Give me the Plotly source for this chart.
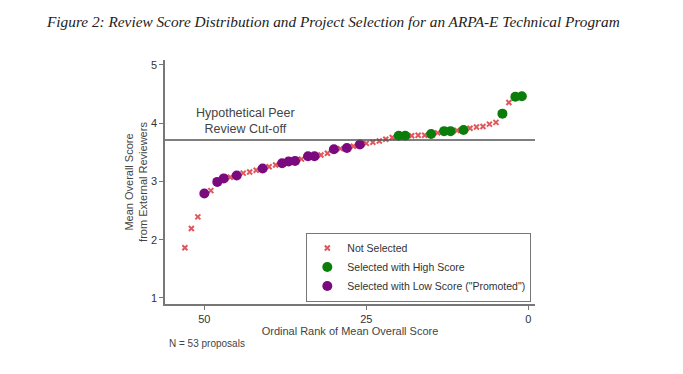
import plotly.graph_objects as go

# Data: ordinal rank (1 = best) and mean overall score
ranks = list(range(1, 54))
scores = [4.46, 4.45, 4.35, 4.16, 4.01, 3.98, 3.94, 3.93, 3.91, 3.88,
          3.87, 3.86, 3.86, 3.83, 3.81, 3.79, 3.79, 3.78, 3.78, 3.78,
          3.75, 3.72, 3.69, 3.67, 3.65, 3.63, 3.60, 3.57, 3.56, 3.55,
          3.48, 3.45, 3.43, 3.43, 3.38, 3.35, 3.34, 3.31, 3.28, 3.25,
          3.22, 3.19, 3.16, 3.14, 3.10, 3.07, 3.05, 2.99, 2.84, 2.79,
          2.39, 2.19, 1.86]
high_ranks = [1, 2, 4, 10, 12, 13, 15, 19, 20]
promoted_ranks = [26, 28, 30, 33, 34, 36, 37, 38, 41, 45, 47, 48, 50]
cutoff = 3.71
x_ticks = [50, 25, 0]
y_ticks = [1, 2, 3, 4, 5]

score_of = dict(zip(ranks, scores))
not_sel = [r for r in ranks if r not in high_ranks and r not in promoted_ranks]

fig = go.Figure()
fig.add_trace(go.Scatter(
    x=not_sel, y=[score_of[r] for r in not_sel], mode="markers",
    name="Not Selected",
    marker=dict(symbol="x-thin", size=5, color="#e0575c",
                line=dict(width=2, color="#e0575c"))))
fig.add_trace(go.Scatter(
    x=high_ranks, y=[score_of[r] for r in high_ranks], mode="markers",
    name="Selected with High Score",
    marker=dict(symbol="circle", size=10, color="#0a7d0a")))
fig.add_trace(go.Scatter(
    x=promoted_ranks, y=[score_of[r] for r in promoted_ranks], mode="markers",
    name='Selected with Low Score ("Promoted")',
    marker=dict(symbol="circle", size=10, color="#7a0a7d")))

fig.add_shape(type="line", xref="paper", x0=0, x1=1, yref="y",
              y0=cutoff, y1=cutoff, line=dict(color="#555555", width=1.5))

fig.add_annotation(x=43.6, y=4.03, xref="x", yref="y",
                   text="Hypothetical Peer<br>Review Cut-off", showarrow=False,
                   font=dict(family="Liberation Sans", size=12.5, color="#444444"),
                   align="center")
fig.add_annotation(x=0.005, y=-0.16, xref="paper", yref="paper",
                   xanchor="left", yanchor="middle",
                   text="N = 53 proposals", showarrow=False,
                   font=dict(family="Liberation Sans", size=10, color="#444444"))

fig.update_layout(
    width=683, height=374,
    margin=dict(l=157, r=156, t=52, b=78),
    paper_bgcolor="white", plot_bgcolor="white",
    title=dict(text="Figure 2: Review Score Distribution and Project Selection for an ARPA-E Technical Program",
               x=39/683, xanchor="left", y=1-14/374, yanchor="middle",
               font=dict(family="Liberation Serif", size=15.3, color="#222222", style="italic")),
    font=dict(family="Liberation Sans", color="#444444"),
    showlegend=True,
    legend=dict(x=0.99, xanchor="right", y=0.01, yanchor="bottom",
                bordercolor="#777777", borderwidth=1, bgcolor="white",
                font=dict(size=10.5, color="#333333"),
                itemsizing="trace", tracegroupgap=0),
    xaxis=dict(range=[56.07, -1.03], tickvals=x_ticks, showgrid=False, zeroline=False,
               showline=True, linecolor="#777777", linewidth=1.5,
               ticks="outside", ticklen=4, tickcolor="#777777",
               tickfont=dict(size=11, color="#333333"),
               title=dict(text="Ordinal Rank of Mean Overall Score", standoff=0,
                          font=dict(size=11, color="#444444"))),
    yaxis=dict(range=[0.897, 5.08], tickvals=y_ticks, showgrid=False, zeroline=False,
               showline=True, linecolor="#777777", linewidth=1.5,
               ticks="outside", ticklen=4, tickcolor="#777777",
               tickfont=dict(size=11, color="#333333"),
               title=dict(text="Mean Overall Score<br>from External Reviewers", standoff=1,
                          font=dict(size=11, color="#444444"))),
)

fig.write_html("out.html")
